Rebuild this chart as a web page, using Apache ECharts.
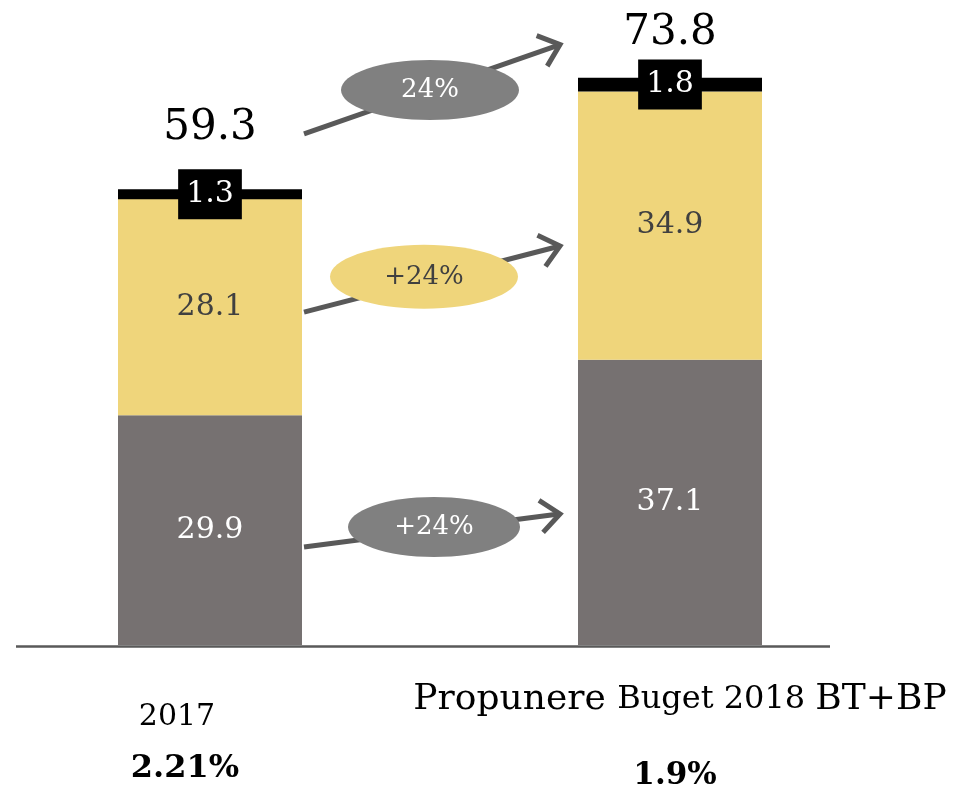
<!DOCTYPE html>
<html>
<head>
<meta charset="utf-8">
<script src="https://cdn.jsdelivr.net/npm/echarts@6/dist/echarts.min.js"></script>
<style>
html, body { margin: 0; padding: 0; background: #fff; }
#main { width: 957px; height: 791px; }
</style>
</head>
<body>
<div id="main"></div>
<script>
// data
const categories = ['2017', 'Propunere Buget 2018 BT+BP'];
const shareOfGdp = ['2.21%', '1.9%'];
const baseValues = [29.9, 37.1];
const midValues = [28.1, 34.9];
const topValues = [1.3, 1.8];
const totals = [59.3, 73.8];
const growthLabels = ['+24%', '+24%', '24%'];

const serif = 'DejaVu Serif';
const barWidth = 184;
const totalGap = [40, 24];

// arrows between the bars, anchored in value units
const arrowSpecs = [
  { from: 12.75, to: 17.05, mid: 15.35, dx: -6, rx: 86, ry: 30, fill: '#808080', textColor: '#ffffff' },
  { from: 43.3, to: 51.9, mid: 47.9, dx: -16, rx: 94, ry: 32, fill: '#efd57b', textColor: '#404040' },
  { from: 66.5, to: 78.1, mid: 72.2, dx: -10, rx: 89, ry: 30, fill: '#808080', textColor: '#ffffff' }
];

const chart = echarts.init(document.getElementById('main'));

const option = {
  animation: false,
  backgroundColor: '#fff',
  grid: { left: -20, right: 57, top: 30, bottom: 146, outerBoundsMode: 'none', containLabel: false },
  xAxis: {
    type: 'category',
    data: categories,
    axisLine: { show: false },
    axisTick: { show: false },
    axisLabel: {
      interval: 0,
      margin: 35,
      formatter: function (v, i) {
        if (i === 0) {
          return '{yr|' + v + '}\n{pl|' + shareOfGdp[i] + '}';
        }
        const parts = v.split(' ');
        return '{pa0|' + parts[0] + ' }{pb|' + parts[1] + ' ' + parts[2] + ' }{pa|' + parts[3] + '}\n{pr|' + shareOfGdp[i] + '}';
      },
      rich: {
        yr: { fontFamily: serif, fontSize: 30, color: '#000', lineHeight: 74, padding: [0, 66, 0, 0] },
        pl: { fontFamily: serif, fontSize: 32, fontWeight: 'bold', color: '#000', lineHeight: 30, padding: [0, 50, 0, 0] },
        pa0: { fontFamily: serif, fontSize: 36, color: '#000', lineHeight: 40, padding: [0, 0, 0, 20] },
        pa: { fontFamily: serif, fontSize: 36, color: '#000', lineHeight: 40 },
        pb: { fontFamily: serif, fontSize: 32, color: '#000', lineHeight: 40 },
        pr: { fontFamily: serif, fontSize: 31, fontWeight: 'bold', color: '#000', lineHeight: 112, padding: [0, 0, 0, 10] }
      }
    }
  },
  yAxis: { type: 'value', min: 0, max: 80, show: false },
  series: [
    {
      name: 'base', type: 'bar', stack: 'total', barWidth: barWidth,
      data: baseValues,
      itemStyle: { color: '#767171' },
      label: { show: true, position: 'inside', color: '#fff', fontFamily: serif, fontSize: 30 }
    },
    {
      name: 'mid', type: 'bar', stack: 'total', barWidth: barWidth,
      data: midValues,
      itemStyle: { color: '#efd57b' },
      label: { show: true, position: 'inside', color: '#404040', fontFamily: serif, fontSize: 30 }
    },
    {
      name: 'top', type: 'bar', stack: 'total', barWidth: barWidth,
      data: topValues,
      itemStyle: { color: '#000' },
      label: {
        show: true, position: 'inside', color: '#fff', fontFamily: serif, fontSize: 30,
        backgroundColor: '#000', padding: [10, 8]
      }
    },
    {
      name: 'sum', type: 'bar', stack: 'total', barWidth: barWidth,
      data: totals.map(function (t, i) { return { value: 0, label: { distance: totalGap[i] } }; }),
      itemStyle: { color: 'transparent' },
      label: {
        show: true, position: 'top', color: '#000', fontFamily: serif, fontSize: 42,
        formatter: function (p) { return totals[p.dataIndex].toFixed(1); }
      }
    }
  ]
};

chart.setOption(option);

const px = function (cat, v) { return chart.convertToPixel({ gridIndex: 0 }, [cat, v]); };
const half = barWidth / 2;
const elements = [];

// baseline
const zero = px(0, 0);
elements.push({
  type: 'line', shape: { x1: 16, y1: zero[1] + 1.5, x2: 830, y2: zero[1] + 1.5 },
  style: { stroke: '#595959', lineWidth: 2.5 }, z: 5
});

arrowSpecs.forEach(function (a, i) {
  const s = px(0, a.from);
  const e = px(1, a.to);
  const x1 = s[0] + half + 2, y1 = s[1];
  const x2 = e[0] - half - 18, y2 = e[1];
  const ang = Math.atan2(y2 - y1, x2 - x1);
  const headLen = 25, spread = 0.7;
  const h1 = [x2 - headLen * Math.cos(ang - spread), y2 - headLen * Math.sin(ang - spread)];
  const h2 = [x2 - headLen * Math.cos(ang + spread), y2 - headLen * Math.sin(ang + spread)];
  elements.push({
    type: 'line',
    shape: { x1: x1, y1: y1, x2: x2 - 3 * Math.cos(ang), y2: y2 - 3 * Math.sin(ang) },
    style: { stroke: '#595959', lineWidth: 5 }, z: 10
  });
  elements.push({
    type: 'polyline', shape: { points: [h1, [x2, y2], h2] },
    style: { stroke: '#595959', lineWidth: 5, fill: null }, z: 10
  });
  const c = px(0, a.mid);
  const cx = (s[0] + e[0]) / 2 + a.dx;
  elements.push({
    type: 'ellipse', shape: { cx: cx, cy: c[1], rx: a.rx, ry: a.ry },
    style: { fill: a.fill }, z: 11
  });
  elements.push({
    type: 'text', x: cx, y: c[1], z: 12,
    style: {
      text: growthLabels[i], fontFamily: serif, fontSize: 26, fill: a.textColor,
      align: 'center', verticalAlign: 'middle'
    }
  });
});

chart.setOption({ graphic: elements });
</script>
</body>
</html>
